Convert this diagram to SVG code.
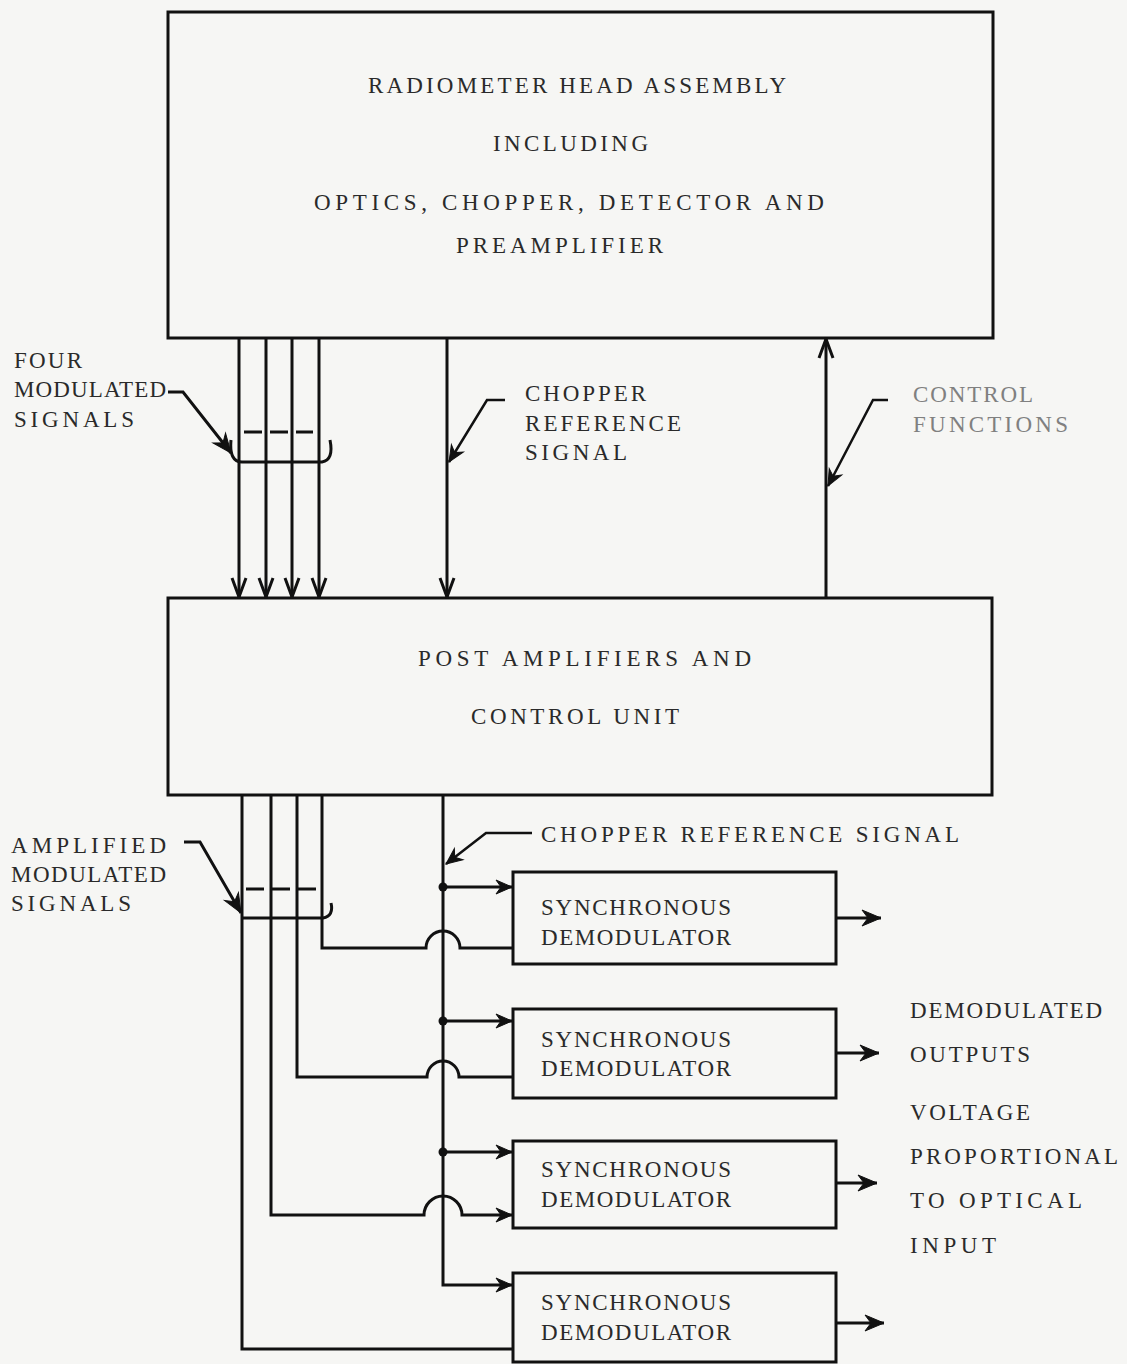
<svg xmlns="http://www.w3.org/2000/svg" width="1127" height="1364" viewBox="0 0 1127 1364">
<style>
.box{fill:none;stroke:#111;stroke-width:3}
.ln{fill:none;stroke:#111;stroke-width:3}
.thin{fill:none;stroke:#111;stroke-width:2.5}
.t{font-family:"Liberation Serif","DejaVu Serif",serif;font-size:23px;fill:#2a2a2a}
.faint{fill:#808080}
</style>
<defs>
<marker id="open" viewBox="-22 -10 24 20" markerWidth="24" markerHeight="20" refX="0" refY="0" orient="auto" markerUnits="userSpaceOnUse">
<path d="M-19,-7 L0,0 L-19,7" fill="none" stroke="#111" stroke-width="3"/>
</marker>
<marker id="fill" viewBox="-20 -10 22 20" markerWidth="22" markerHeight="20" refX="0" refY="0" orient="auto" markerUnits="userSpaceOnUse">
<path d="M-16,-7 L0,0 L-16,7 L-11,0 z" fill="#111" stroke="#111" stroke-width="1"/>
</marker>
<marker id="big" viewBox="-22 -10 24 20" markerWidth="24" markerHeight="20" refX="0" refY="0" orient="auto" markerUnits="userSpaceOnUse">
<path d="M-19,-8 L0,0 L-19,8 L-13,0 z" fill="#111" stroke="#111" stroke-width="1"/>
</marker>
</defs>
<rect x="0" y="0" width="1127" height="1364" fill="#f6f6f4"/>

<g id="head">
<rect class="box" x="168" y="12" width="825" height="326"/>
<text class="t" x="368" y="93" textLength="418" lengthAdjust="spacing">RADIOMETER HEAD ASSEMBLY</text>
<text class="t" x="493" y="151" textLength="155" lengthAdjust="spacing">INCLUDING</text>
<text class="t" x="314" y="210" textLength="510" lengthAdjust="spacing">OPTICS, CHOPPER, DETECTOR AND</text>
<text class="t" x="456" y="253" textLength="207" lengthAdjust="spacing">PREAMPLIFIER</text>
</g>

<g id="postamp">
<rect class="box" x="168" y="598" width="824" height="197"/>
<text class="t" x="418" y="666" textLength="333" lengthAdjust="spacing">POST AMPLIFIERS AND</text>
<text class="t" x="471" y="724" textLength="208" lengthAdjust="spacing">CONTROL UNIT</text>
</g>

<g id="demod1">
<rect class="box" x="513" y="872" width="323" height="92"/>
<text class="t" x="541" y="915" textLength="190" lengthAdjust="spacing">SYNCHRONOUS</text>
<text class="t" x="541" y="945" textLength="190" lengthAdjust="spacing">DEMODULATOR</text>
</g>
<g id="demod2">
<rect class="box" x="513" y="1009" width="323" height="89"/>
<text class="t" x="541" y="1047" textLength="190" lengthAdjust="spacing">SYNCHRONOUS</text>
<text class="t" x="541" y="1076" textLength="190" lengthAdjust="spacing">DEMODULATOR</text>
</g>
<g id="demod3">
<rect class="box" x="513" y="1141" width="323" height="87"/>
<text class="t" x="541" y="1177" textLength="190" lengthAdjust="spacing">SYNCHRONOUS</text>
<text class="t" x="541" y="1207" textLength="190" lengthAdjust="spacing">DEMODULATOR</text>
</g>
<g id="demod4">
<rect class="box" x="513" y="1273" width="323" height="89"/>
<text class="t" x="541" y="1310" textLength="190" lengthAdjust="spacing">SYNCHRONOUS</text>
<text class="t" x="541" y="1340" textLength="190" lengthAdjust="spacing">DEMODULATOR</text>
</g>

<g id="labels">
<text class="t" x="14" y="368" textLength="68" lengthAdjust="spacing">FOUR</text>
<text class="t" x="14" y="397" textLength="152" lengthAdjust="spacing">MODULATED</text>
<text class="t" x="14" y="427" textLength="120" lengthAdjust="spacing">SIGNALS</text>
<text class="t" x="525" y="401" textLength="121" lengthAdjust="spacing">CHOPPER</text>
<text class="t" x="525" y="431" textLength="156" lengthAdjust="spacing">REFERENCE</text>
<text class="t" x="525" y="460" textLength="102" lengthAdjust="spacing">SIGNAL</text>
<text class="t faint" x="913" y="402" textLength="120" lengthAdjust="spacing">CONTROL</text>
<text class="t faint" x="913" y="432" textLength="155" lengthAdjust="spacing">FUNCTIONS</text>
<text class="t" x="11" y="853" textLength="155" lengthAdjust="spacing">AMPLIFIED</text>
<text class="t" x="11" y="882" textLength="155" lengthAdjust="spacing">MODULATED</text>
<text class="t" x="11" y="911" textLength="120" lengthAdjust="spacing">SIGNALS</text>
<text class="t" x="541" y="842" textLength="418" lengthAdjust="spacing">CHOPPER REFERENCE SIGNAL</text>
<text class="t" x="910" y="1018" textLength="192" lengthAdjust="spacing">DEMODULATED</text>
<text class="t" x="910" y="1062" textLength="120" lengthAdjust="spacing">OUTPUTS</text>
<text class="t" x="910" y="1120" textLength="120" lengthAdjust="spacing">VOLTAGE</text>
<text class="t" x="910" y="1164" textLength="208" lengthAdjust="spacing">PROPORTIONAL</text>
<text class="t" x="910" y="1208" textLength="172" lengthAdjust="spacing">TO OPTICAL</text>
<text class="t" x="910" y="1253" textLength="86" lengthAdjust="spacing">INPUT</text>
</g>

<g id="connectors">
<line class="ln" x1="239" y1="338" x2="239" y2="597" marker-end="url(#open)"/>
<line class="ln" x1="266" y1="338" x2="266" y2="597" marker-end="url(#open)"/>
<line class="ln" x1="292" y1="338" x2="292" y2="597" marker-end="url(#open)"/>
<line class="ln" x1="319" y1="338" x2="319" y2="597" marker-end="url(#open)"/>
<line class="ln" x1="447" y1="338" x2="447" y2="597" marker-end="url(#open)"/>
<line class="ln" x1="826" y1="598" x2="826" y2="339" marker-end="url(#open)"/>
<path class="ln" d="M231,440 Q229,462 242,462 H322 Q334,460 330,440"/>
<line class="ln" x1="244" y1="432" x2="313" y2="432" stroke-dasharray="18,8"/>
<path class="ln" d="M168,392 H183 L231,453" marker-end="url(#big)"/>
<path class="thin" d="M505,400 H487 L449,462" marker-end="url(#fill)"/>
<path class="thin" d="M888,400 H873 L828,486" marker-end="url(#fill)"/>

<path class="ln" d="M243,918 H323 Q334,916 331,903"/>
<line class="ln" x1="246" y1="889" x2="318" y2="889" stroke-dasharray="18,8"/>
<path class="ln" d="M184,842 H200 L241,913" marker-end="url(#big)"/>
<path class="thin" d="M532,833 H486 L446,864" marker-end="url(#fill)"/>

<path class="ln" d="M443,795 V1285 H512" marker-end="url(#fill)"/>
<line class="ln" x1="443" y1="887" x2="512" y2="887" marker-end="url(#fill)"/>
<line class="ln" x1="443" y1="1021" x2="512" y2="1021" marker-end="url(#fill)"/>
<line class="ln" x1="443" y1="1152" x2="512" y2="1152" marker-end="url(#fill)"/>
<circle cx="443" cy="887" r="4.5" fill="#111"/>
<circle cx="443" cy="1021" r="4.5" fill="#111"/>
<circle cx="443" cy="1152" r="4.5" fill="#111"/>

<path class="ln" d="M322,795 V948 H426 A17,17 0 0 1 460,948 H513"/>
<path class="ln" d="M297,795 V1077 H427 A16,16 0 0 1 459,1077 H513"/>
<path class="ln" d="M271,795 V1215 H424 A19,19 0 0 1 462,1215 H512" marker-end="url(#fill)"/>
<path class="ln" d="M242,795 V1349 H513"/>

<line class="ln" x1="836" y1="918" x2="881" y2="918" marker-end="url(#big)"/>
<line class="ln" x1="836" y1="1053" x2="879" y2="1053" marker-end="url(#big)"/>
<line class="ln" x1="836" y1="1183" x2="877" y2="1183" marker-end="url(#big)"/>
<line class="ln" x1="836" y1="1323" x2="884" y2="1323" marker-end="url(#big)"/>
</g>
</svg>
